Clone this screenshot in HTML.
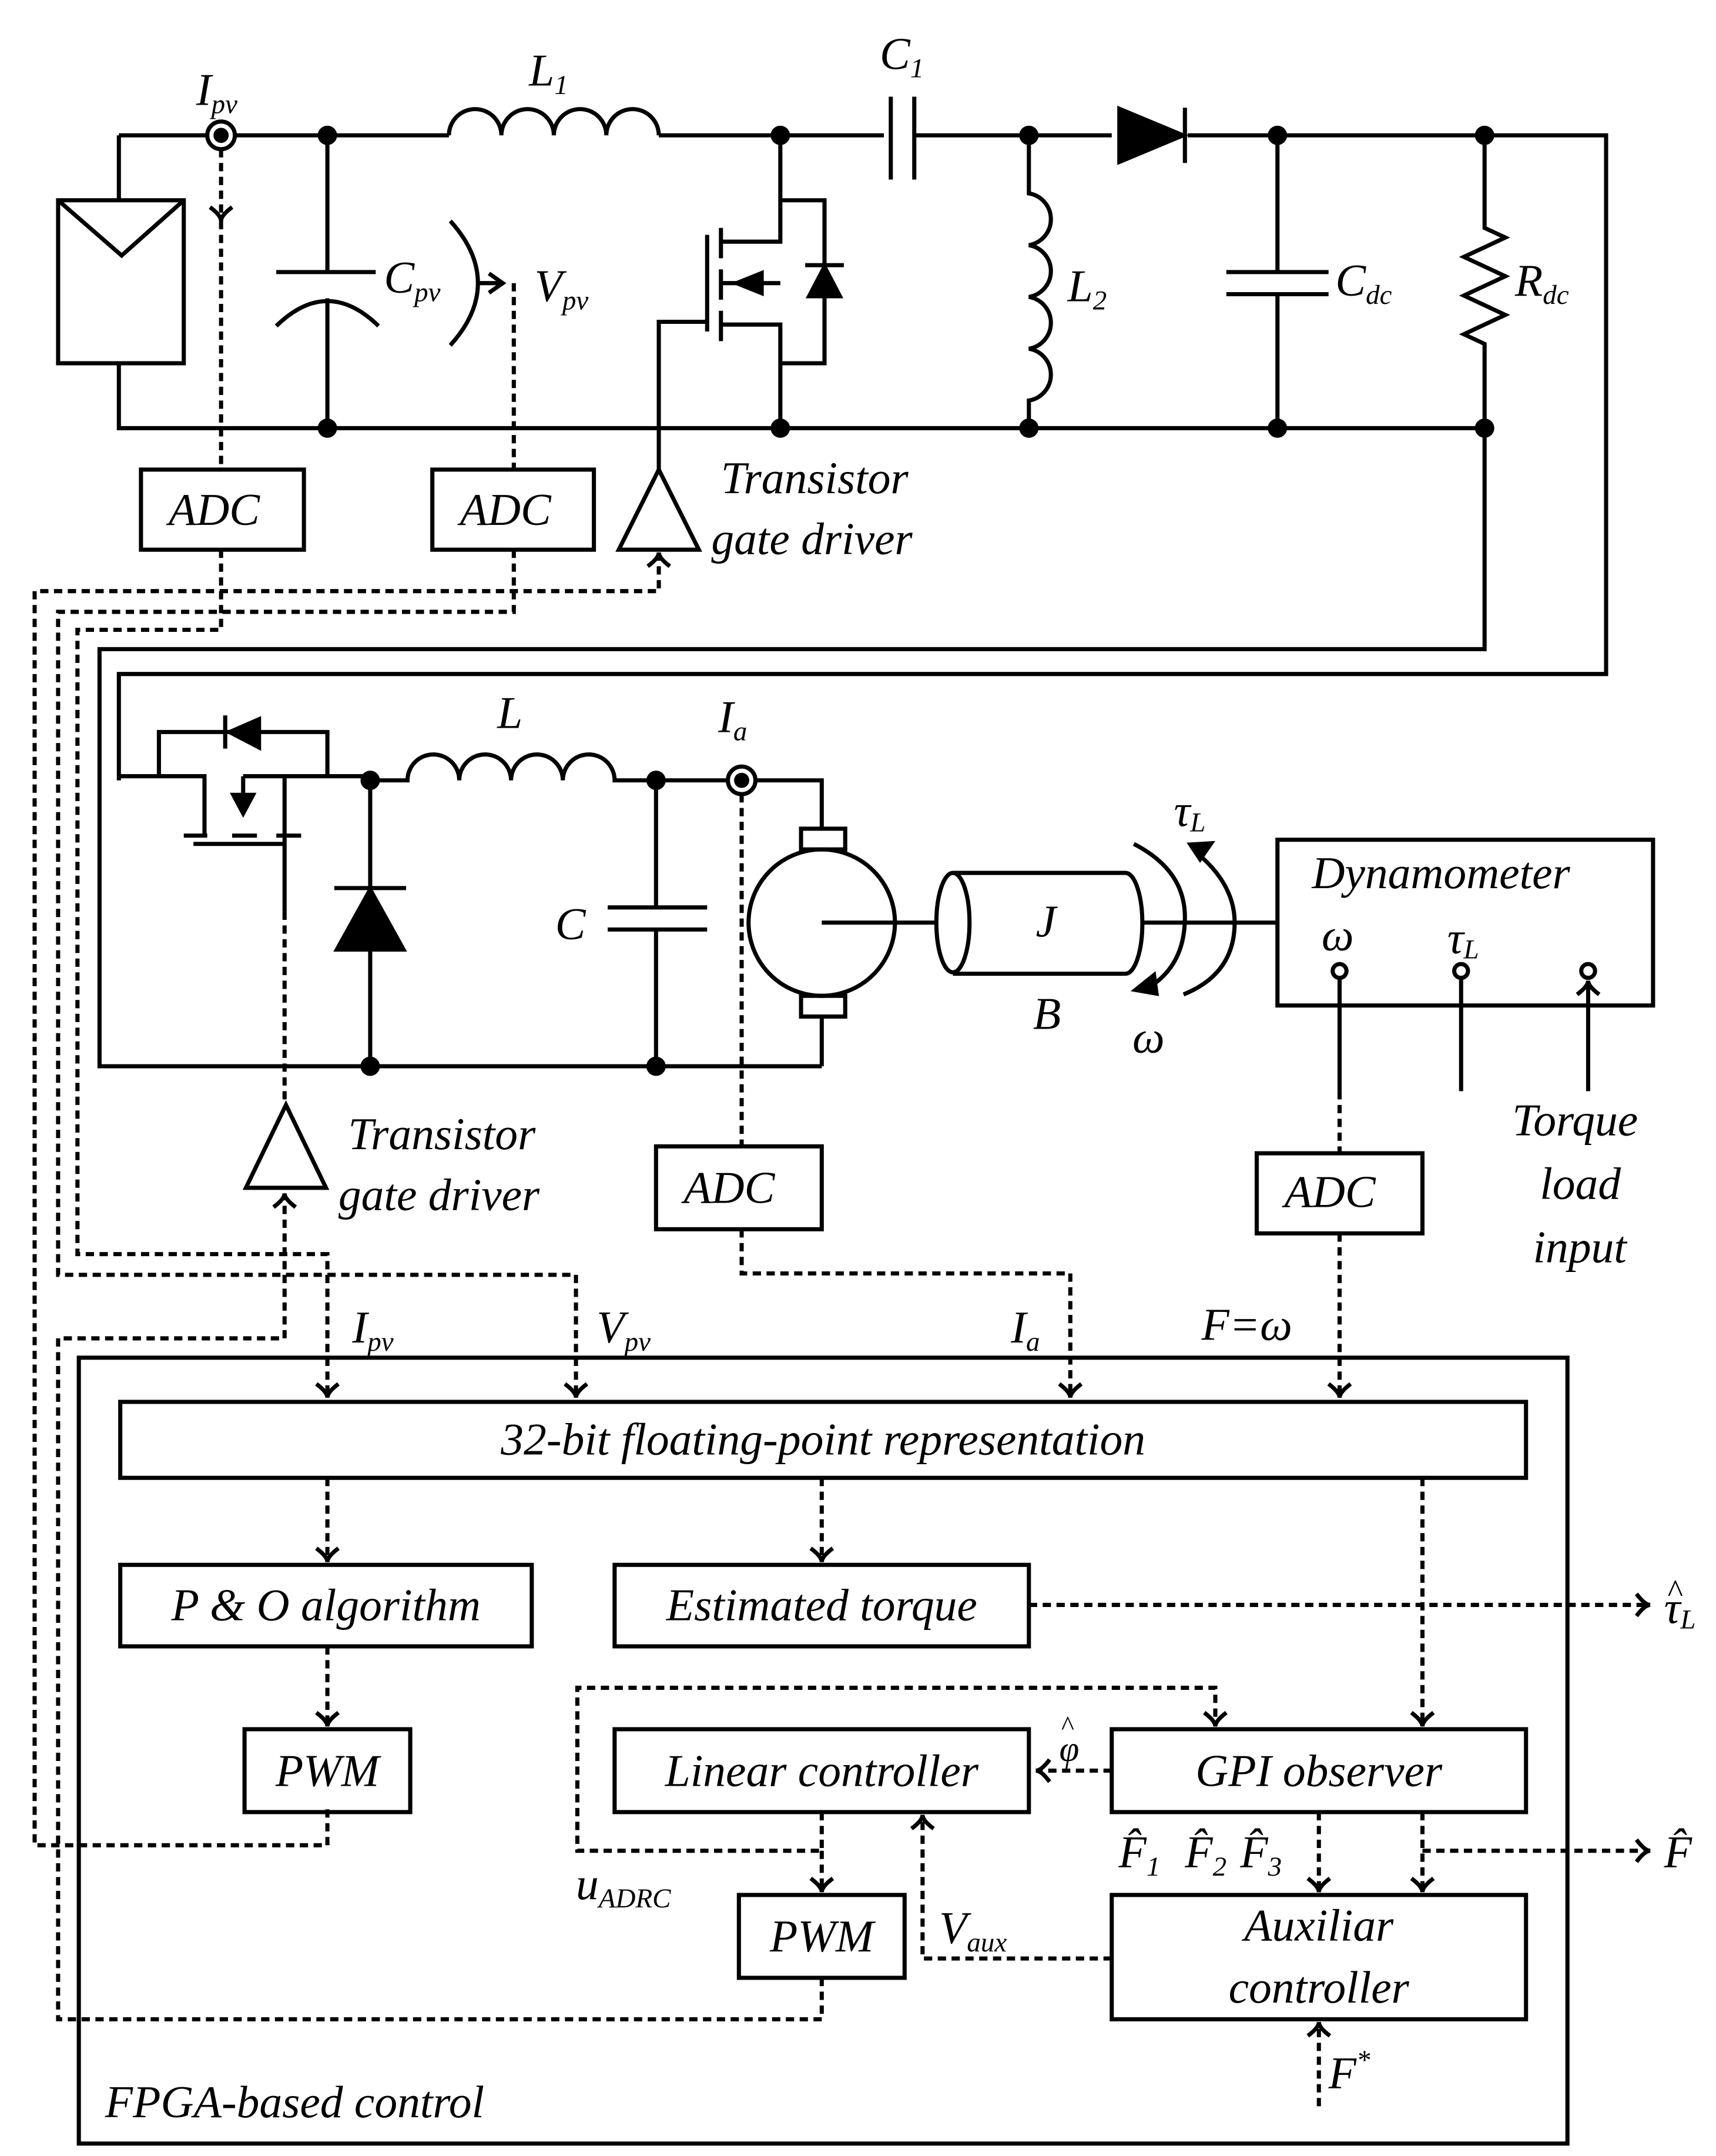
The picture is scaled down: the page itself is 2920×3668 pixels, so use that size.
<!DOCTYPE html>
<html><head><meta charset="utf-8"><style>
html,body{margin:0;padding:0;background:#fff}
svg{display:block}
text{font-family:"Liberation Serif",serif;font-style:italic;fill:#000}
</style></head><body>
<svg width="2920" height="3668" viewBox="0 0 1242.5 1561" xmlns="http://www.w3.org/2000/svg">
<defs>
<marker id="a" markerUnits="userSpaceOnUse" markerWidth="24" markerHeight="24" refX="12" refY="12" orient="auto" viewBox="0 0 24 24">
<path d="M2,4 Q8,12 12,12 Q8,12 2,20" fill="none" stroke="#000" stroke-width="3"/>
</marker>
</defs>
<g fill="none" stroke="#000" stroke-width="3">
<path d="M86,98 H150 M170,98 H325 M477,98 H640 M662,98 H805 M860,98 H1163 V488 H86 V565"/>
<path d="M86,98 V310 H1075 V470 H72 V772 H595"/>
<rect x="42" y="145" width="91" height="118" fill="#fff"/>
<path d="M42,145 L88,185 L133,145"/>
<circle cx="160" cy="98" r="10" fill="#fff"/>
<circle cx="160" cy="98" r="4" fill="#000"/>
<path d="M237,98 V197 M200,197 H272 M200,236 Q237,200 274,236 M237,216 V310"/>
<path d="M326,160 Q346,182 346,205 Q346,228 326,250 M346,205 H362"/>
<path d="M354,198 L364,205 L354,212"/>
<path d="M325,98 a19,19 0 0 1 38,0 a19,19 0 0 1 38,0 a19,19 0 0 1 38,0 a19,19 0 0 1 38,0"/>
<path d="M565,98 V145 H597 V263 H565 V310 M522,175 H565 V145 M522,235 H565 V263 M522,205 H565"/>
<path d="M522,165 V187 M522,195 V217 M522,225 V247 M512,170 V240 M512,233 H477 V340"/>
<path d="M583,192 H611"/>
<path d="M645,70 V130 M662,70 V130"/>
<path d="M745,98 V140 a19,19 0 0 1 0,37.5 a19,19 0 0 1 0,37.5 a19,19 0 0 1 0,37.5 a19,19 0 0 1 0,37.5 V310"/>
<path d="M858,78 V118"/>
<path d="M925,98 V197 M888,197 H962 M888,213 H962 M925,213 V310"/>
<path d="M1075,98 V165 l15,7 l-30,14 l30,14 l-30,14 l30,14 l-30,14 l15,7 V310"/>
<rect x="102" y="340" width="118" height="58"/>
<rect x="313" y="340" width="117" height="58"/>
<path d="M477,340 L448,398 H506 Z"/>
<path d="M86,562 H148 V605 M176,562 H268 M115,562 V530 H237 V562 M206,562 V660"/>
<path d="M133,605 H150 M168,605 H186 M200,605 H218 M140,611 H206 M176,562 V580"/>
<path d="M163,518 V542"/>
<path d="M268,565 H295 a18.75,18.75 0 0 1 37.5,0 a18.75,18.75 0 0 1 37.5,0 a18.75,18.75 0 0 1 37.5,0 a18.75,18.75 0 0 1 37.5,0 H527 M547,565 H595 V600"/>
<circle cx="537" cy="565" r="10" fill="#fff"/>
<circle cx="537" cy="565" r="4" fill="#000"/>
<path d="M268,565 V772 M242,643 H294"/>
<path d="M475,565 V657 M440,657 H512 M440,673 H512 M475,673 V772"/>
<circle cx="595" cy="668" r="53" fill="#fff"/>
<rect x="580" y="600" width="32" height="15"/>
<rect x="580" y="721" width="32" height="15"/>
<path d="M595,736 V772 M595,668 H678"/>
<path d="M690,632 H815 A12,36 0 0 1 815,705 H690"/>
<ellipse cx="690" cy="668" rx="12" ry="36"/>
<path d="M827,668 H925"/>
<!-- torque arcs -->
<path d="M821,611 Q858,630 858,664 Q858,700 830,716"/>
<path d="M866,617 Q894,640 894,668 Q894,705 857,720"/>
<rect x="925" y="608" width="272" height="120"/>
<circle cx="970" cy="703" r="5" fill="#fff"/>
<circle cx="1058" cy="703" r="5" fill="#fff"/>
<circle cx="1150" cy="703" r="5" fill="#fff"/>
<path d="M970,708 V790 M1058,708 V790 M1150,790 V710" marker-end="url(#a)"/>
<rect x="475" y="830" width="120" height="60"/>
<rect x="910" y="835" width="120" height="58"/>
<path d="M207,800 L178,860 H236 Z"/>
<rect x="57" y="983" width="1078" height="569"/>
<rect x="87" y="1015" width="1018" height="55"/>
<rect x="87" y="1133" width="298" height="59"/>
<rect x="445" y="1133" width="300" height="59"/>
<rect x="177" y="1252" width="120" height="60"/>
<rect x="445" y="1252" width="300" height="60"/>
<rect x="805" y="1252" width="300" height="60"/>
<rect x="535" y="1372" width="120" height="60"/>
<rect x="805" y="1372" width="300" height="90"/>
</g>
<g fill="#000" stroke="#000" stroke-width="2">
<circle cx="237" cy="98" r="6"/><circle cx="237" cy="310" r="6"/>
<circle cx="565" cy="98" r="6"/><circle cx="565" cy="310" r="6"/>
<circle cx="745" cy="98" r="6"/><circle cx="745" cy="310" r="6"/>
<circle cx="925" cy="98" r="6"/><circle cx="925" cy="310" r="6"/>
<circle cx="1075" cy="98" r="6"/><circle cx="1075" cy="310" r="6"/>
<circle cx="268" cy="565" r="6"/><circle cx="475" cy="565" r="6"/>
<circle cx="268" cy="772" r="6"/><circle cx="475" cy="772" r="6"/>
<path d="M810,78 L858,98 L810,118 Z"/>
<path d="M532,205 L552,197 L552,213 Z"/>
<path d="M597,192 L585,215 L609,215 Z"/>
<path d="M165,530 L188,520 L188,542 Z"/>
<path d="M168,575 L184,575 L176,590 Z"/>
<path d="M268,643 L243,688 L293,688 Z"/>
<path d="M821,717 L836,705 L838,720 Z"/>
<path d="M861,611 L878,610 L869,623 Z"/>
</g>
<g fill="none" stroke="#000" stroke-width="3" stroke-dasharray="6,4">
<path d="M160,108 V160" marker-end="url(#a)"/>
<path d="M160,160 V340"/>
<path d="M372,205 V340"/>
<path d="M537,575 V830"/>
<path d="M970,790 V835"/>
<path d="M160,398 V456 H56 V908 H237 V1012" marker-end="url(#a)"/>
<path d="M372,398 V443 H42 V923 H417 V1012" marker-end="url(#a)"/>
<path d="M237,1310 V1336 H25 V428 H477 V400" marker-end="url(#a)"/>
<path d="M206,660 V800"/>
<path d="M595,1432 V1462 H42 V969 H206 V864" marker-end="url(#a)"/>
<path d="M537,890 V922 H775 V1012" marker-end="url(#a)"/>
<path d="M970,893 V1012" marker-end="url(#a)"/>
<path d="M237,1070 V1131" marker-end="url(#a)"/>
<path d="M595,1070 V1131" marker-end="url(#a)"/>
<path d="M1030,1070 V1250" marker-end="url(#a)"/>
<path d="M237,1192 V1250" marker-end="url(#a)"/>
<path d="M745,1162 H1195" marker-end="url(#a)"/>
<path d="M805,1282 H750" marker-end="url(#a)"/>
<path d="M595,1312 V1340 H418 V1222 H880 V1250" marker-end="url(#a)"/>
<path d="M595,1340 V1370" marker-end="url(#a)"/>
<path d="M955,1312 V1370" marker-end="url(#a)"/>
<path d="M1030,1312 V1370" marker-end="url(#a)"/>
<path d="M1030,1340 H1195" marker-end="url(#a)"/>
<path d="M805,1418 H668 V1314" marker-end="url(#a)"/>
<path d="M955,1525 V1464" marker-end="url(#a)"/>
</g>
<g font-size="33">
<text x="142" y="76">I<tspan font-size="20" dy="6">pv</tspan></text>
<text x="383" y="62">L<tspan font-size="20" dy="6">1</tspan></text>
<text x="637" y="50">C<tspan font-size="20" dy="6">1</tspan></text>
<text x="278" y="212">C<tspan font-size="20" dy="6">pv</tspan></text>
<text x="387" y="218">V<tspan font-size="20" dy="6">pv</tspan></text>
<text x="773" y="218">L<tspan font-size="20" dy="6">2</tspan></text>
<text x="967" y="214">C<tspan font-size="20" dy="6">dc</tspan></text>
<text x="1097" y="214">R<tspan font-size="20" dy="6">dc</tspan></text>
<text x="122" y="380">ADC</text>
<text x="333" y="380">ADC</text>
<text x="522" y="357">Transistor</text>
<text x="515" y="401">gate driver</text>
<text x="360" y="527">L</text>
<text x="520" y="530">I<tspan font-size="20" dy="6">a</tspan></text>
<text x="402" y="680">C</text>
<text x="750" y="678">J</text>
<text x="748" y="745">B</text>
<text x="850" y="598">τ<tspan font-size="20" dy="4">L</tspan></text>
<text x="820" y="762">ω</text>
<text x="950" y="643">Dynamometer</text>
<text x="957" y="688">ω</text>
<text x="1048" y="690">τ<tspan font-size="20" dy="4">L</tspan></text>
<text x="1095" y="822">Torque</text>
<text x="1115" y="868">load</text>
<text x="1110" y="914">input</text>
<text x="252" y="832">Transistor</text>
<text x="245" y="876">gate driver</text>
<text x="495" y="871">ADC</text>
<text x="930" y="874">ADC</text>
<text x="255" y="972">I<tspan font-size="20" dy="6">pv</tspan></text>
<text x="432" y="972">V<tspan font-size="20" dy="6">pv</tspan></text>
<text x="732" y="972">I<tspan font-size="20" dy="6">a</tspan></text>
<text x="870" y="970">F=ω</text>
<text x="596" y="1053" text-anchor="middle">32-bit floating-point representation</text>
<text x="236" y="1173" text-anchor="middle">P &amp; O algorithm</text>
<text x="595" y="1173" text-anchor="middle">Estimated torque</text>
<text x="1205" y="1175">τ<tspan font-size="20" dy="4">L</tspan></text>
<text x="1207" y="1160" font-size="24" font-style="normal">^</text>
<text x="237" y="1293" text-anchor="middle">PWM</text>
<text x="595" y="1293" text-anchor="middle">Linear controller</text>
<text x="955" y="1293" text-anchor="middle">GPI observer</text>
<text x="767" y="1275" font-size="26">φ</text>
<text x="768" y="1256" font-size="20" font-style="normal">^</text>
<text x="810" y="1352">F̂<tspan font-size="20" dy="6">1</tspan></text>
<text x="858" y="1352">F̂<tspan font-size="20" dy="6">2</tspan></text>
<text x="898" y="1352">F̂<tspan font-size="20" dy="6">3</tspan></text>
<text x="1205" y="1352">F̂</text>
<text x="417" y="1375">u<tspan font-size="20" dy="6">ADRC</tspan></text>
<text x="595" y="1413" text-anchor="middle">PWM</text>
<text x="680" y="1407">V<tspan font-size="20" dy="6">aux</tspan></text>
<text x="955" y="1405" text-anchor="middle">Auxiliar</text>
<text x="955" y="1450" text-anchor="middle">controller</text>
<text x="962" y="1512">F<tspan font-size="20" dy="-14">*</tspan></text>
<text x="76" y="1533">FPGA-based control</text>
</g>
</svg>
</body></html>
